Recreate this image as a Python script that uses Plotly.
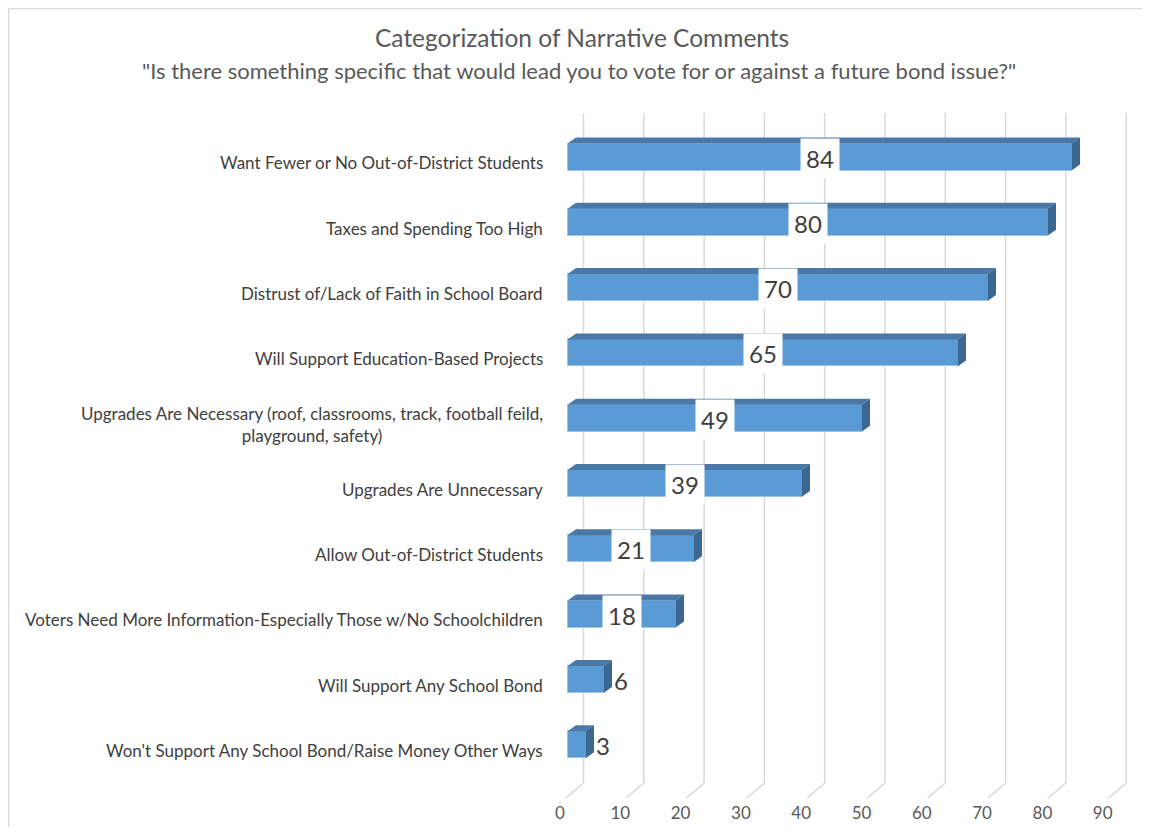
import plotly.graph_objects as go

# ---------------- data ----------------
categories = [
    "Want Fewer or No Out-of-District Students",
    "Taxes and Spending Too High",
    "Distrust of/Lack of Faith in School Board",
    "Will Support Education-Based Projects",
    "Upgrades Are Necessary (roof, classrooms, track, football feild,<br>playground, safety)",
    "Upgrades Are Unnecessary",
    "Allow Out-of-District Students",
    "Voters Need More Information-Especially Those w/No Schoolchildren",
    "Will Support Any School Bond",
    "Won't Support Any School Bond/Raise Money Other Ways",
]
values = [84, 80, 70, 65, 49, 39, 21, 18, 6, 3]
tick_values = [0, 10, 20, 30, 40, 50, 60, 70, 80, 90]
title_text = "Categorization of Narrative Comments"
subtitle_text = "\"Is there something specific that would lead you to vote for or against a future bond issue?\""

# ---------------- geometry / style (page pixel targets) ----------------
OFF = 8                      # page body margin
W, H = 1150 - 2 * OFF, 835 - 2 * OFF
PL, PR = 555, 1140          # plot area x (page px)
PT, PB = 113, 798           # plot area y (page px)
BAR0, BARS = 567.5, 6.0     # bar axis: page px of 0, px per unit
AX0, AXS = 560.0, 6.03      # floor/tick axis
Y0, YS = 157.0, 65.3        # category centre px and spacing

FONT = "Lato"
TXT = "#404040"
FRONT = "#5B9BD5"
TOP = "#4A79A8"
SIDE = "#3B6790"
GRID = "#D9D9D9"

x_range = [(PL - BAR0) / BARS, (PR - BAR0) / BARS]
x2_range = [(PL - AX0) / AXS, (PR - AX0) / AXS]
y_range = [(PB - Y0) / YS, (PT - Y0) / YS]

bw = 27 / YS            # front face height in category units
ddx = 8.5 / BARS        # depth offset x (bar units)
ddy = 6.0 / YS          # depth offset y
goff = (583.5 - AX0) / AXS   # back wall offset for grid (axis2 units)
y_floor = (783 - Y0) / YS
y_front = (803 - Y0) / YS

pw, ph = PR - PL, PB - PT
def px_x(p):
    return (p - PL) / pw
def px_y(p):
    return (PB - p) / ph

idx = list(range(len(categories)))

fig = go.Figure()
fig.add_trace(go.Bar(
    x=values, y=idx, orientation="h", width=bw,
    marker=dict(color=FRONT, line=dict(color="#9DC3E6", width=1)),
    xaxis="x", yaxis="y", hoverinfo="x+y", showlegend=False,
))

shapes = []
for v in tick_values:
    shapes.append(dict(
        type="path", xref="x2", yref="y", layer="below",
        path=f"M {v+goff},{y_range[1]} L {v+goff},{y_floor} L {v},{y_front}",
        line=dict(color=GRID, width=1.5),
    ))
for i, v in zip(idx, values):
    yt = i - bw / 2
    yb = i + bw / 2
    shapes.append(dict(
        type="path", xref="x", yref="y", layer="above",
        path=f"M 0,{yt} L {v},{yt} L {v+ddx},{yt-ddy} L {ddx},{yt-ddy} Z",
        fillcolor=TOP, line=dict(width=0),
    ))
    shapes.append(dict(
        type="path", xref="x", yref="y", layer="above",
        path=f"M {v},{yt} L {v+ddx},{yt-ddy} L {v+ddx},{yb-ddy} L {v},{yb} Z",
        fillcolor=SIDE, line=dict(width=0),
    ))
# outer chart border (top and left edges visible in the reference)
shapes.append(dict(
    type="line", xref="paper", yref="paper", layer="below",
    x0=px_x(OFF + 0.5), x1=px_x(1150), y0=px_y(OFF + 0.5), y1=px_y(OFF + 0.5),
    line=dict(color="#D9D9D9", width=1.5),
))
shapes.append(dict(
    type="line", xref="paper", yref="paper", layer="below",
    x0=px_x(OFF + 0.5), x1=px_x(OFF + 0.5), y0=px_y(OFF + 0.5), y1=px_y(835),
    line=dict(color="#D9D9D9", width=1.5),
))

annotations = []
for i, v in zip(idx, values):
    inside = v >= 10
    annotations.append(dict(
        x=v / 2 if inside else v + ddx + 0.1, y=i, xref="x", yref="y",
        text=str(v), showarrow=False,
        xanchor="center" if inside else "left", yanchor="middle",
        bgcolor="white" if inside else "rgba(0,0,0,0)",
        borderpad=5 if inside else 0, yshift=-1,
        font=dict(family=FONT, size=24, color=TXT),
    ))
for i, c in zip(idx, categories):
    annotations.append(dict(
        x=px_x(545), y=i + 0.09, xref="paper", yref="y", text=c,
        showarrow=False, xanchor="right", yanchor="middle", align="center",
        font=dict(family=FONT, size=17, color=TXT),
    ))
annotations.append(dict(
    x=px_x(582), y=px_y(37), xref="paper", yref="paper",
    text=title_text, showarrow=False, xanchor="center", yanchor="middle",
    font=dict(family=FONT, size=24.5, color="#595959"),
))
annotations.append(dict(
    x=px_x(579), y=px_y(70), xref="paper", yref="paper",
    text=subtitle_text, showarrow=False, xanchor="center", yanchor="middle",
    font=dict(family=FONT, size=22, color="#595959"),
))

fig.update_layout(
    width=W, height=H,
    margin=dict(l=PL - OFF, r=W - (PR - OFF), t=PT - OFF, b=H - (PB - OFF), pad=0),
    paper_bgcolor="white", plot_bgcolor="white",
    xaxis=dict(range=x_range, visible=False, fixedrange=True),
    xaxis2=dict(range=x2_range, overlaying="x", anchor="y", side="bottom",
                tickvals=tick_values, ticktext=[str(t) for t in tick_values],
                showgrid=False, zeroline=False, showline=False, ticks="",
                ticklabelstandoff=3,
                tickfont=dict(family=FONT, size=17, color="#595959")),
    yaxis=dict(range=y_range, showticklabels=False, showgrid=False,
               zeroline=False, showline=False, ticks=""),
    shapes=shapes, annotations=annotations, bargap=0,
)

fig.write_html("out.html")
